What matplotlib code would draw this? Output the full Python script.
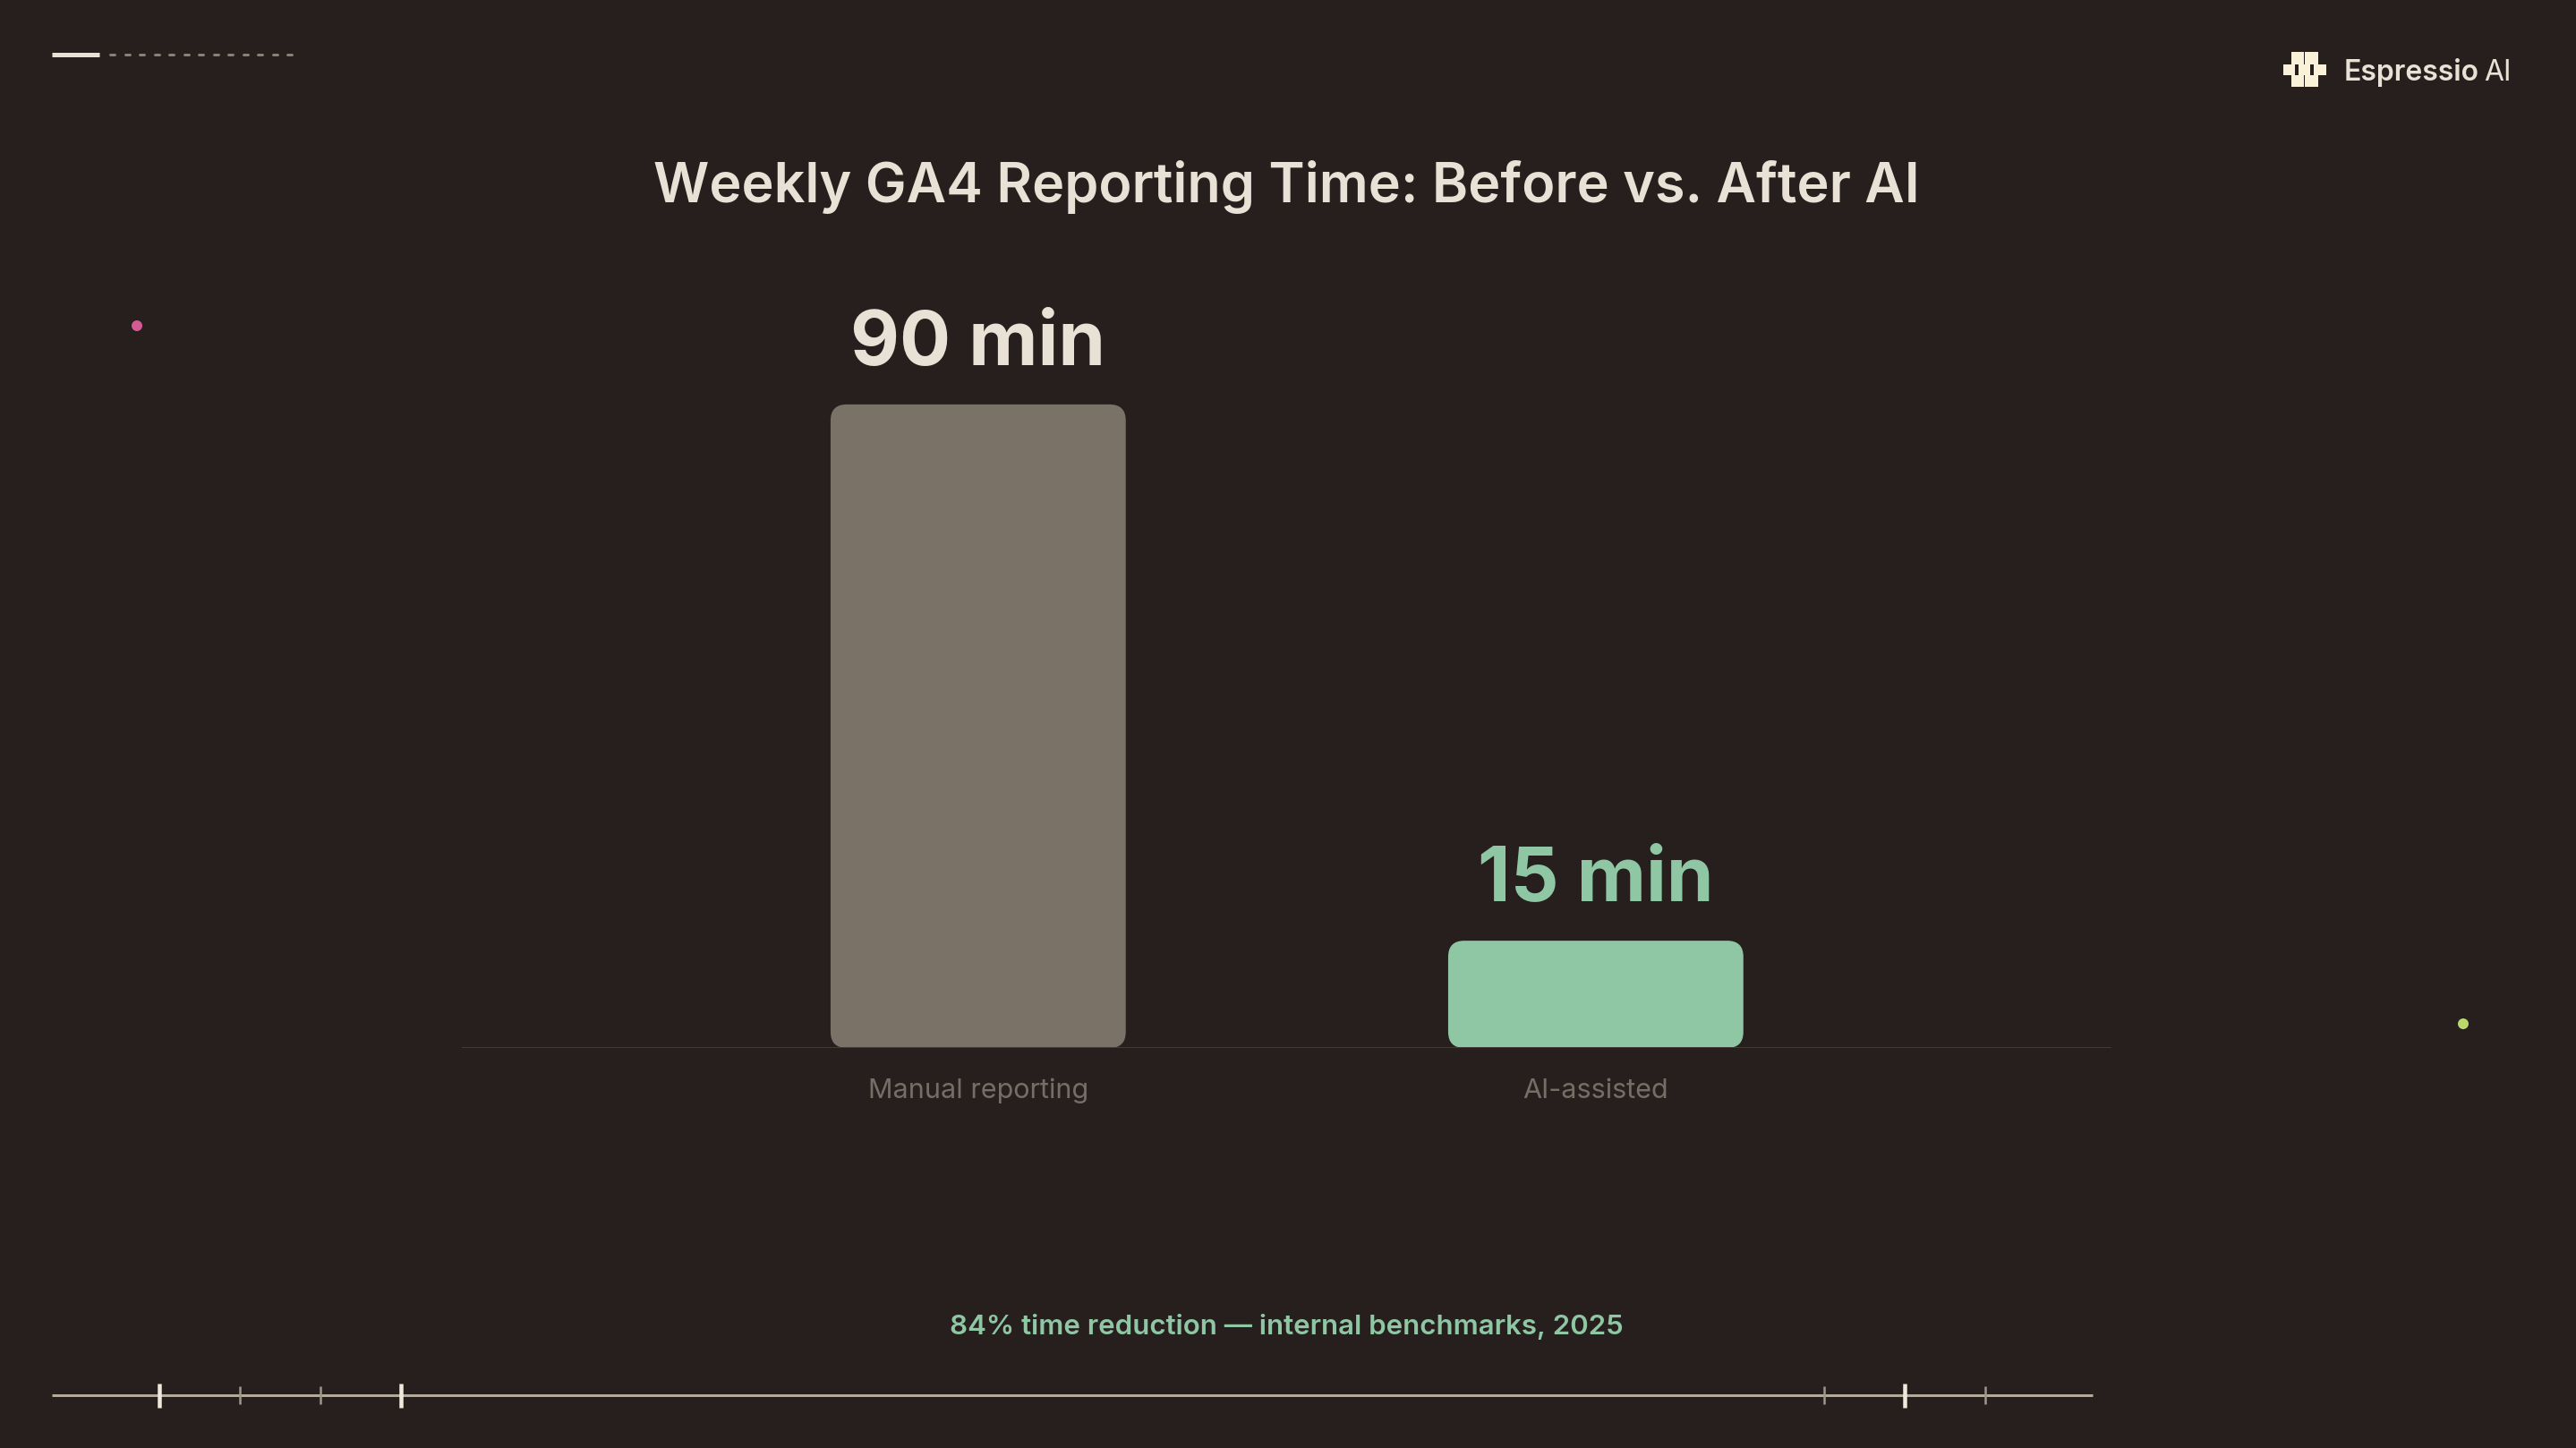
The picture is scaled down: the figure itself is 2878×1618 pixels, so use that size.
import matplotlib
matplotlib.use("Agg")
import matplotlib.pyplot as plt
from matplotlib.patches import FancyBboxPatch, Rectangle, Circle

# data
categories = ["Manual reporting", "AI-assisted"]
minutes = [90, 15]
value_labels = ["90 min", "15 min"]
bar_colors = ["#7A7167", "#8FC6A4"]
label_colors = ["#E9E1D6", "#8FC6A4"]

title = "Weekly GA4 Reporting Time: Before vs. After AI"
footer = "84% time reduction \u2014 internal benchmarks, 2025"

BG = "#271F1D"
CREAM = "#E9E1D6"
GREEN = "#8FC6A4"

W, H = 2878, 1618
DPI = 100
plt.rcParams["font.family"] = ["Inter", "DejaVu Sans"]

fig = plt.figure(figsize=(W / DPI, H / DPI), dpi=DPI, facecolor=BG)

# overlay in pixel coords for the decorations
deco = fig.add_axes([0, 0, 1, 1])
deco.set_xlim(0, W)
deco.set_ylim(H, 0)
deco.axis("off")
deco.set_facecolor("none")

# main chart area (pixels): x 516..2359, baseline y=1171, top 372
left, right, base, top = 516, 2359, 1171, 372
ax = fig.add_axes([left / W, (H - base) / H, (right - left) / W, (base - top) / H])
ax.set_facecolor("none")
xmin, xmax = -0.836, 1.835
ymax = 100
ax.set_xlim(xmin, xmax)
ax.set_ylim(0, ymax)
ax.axis("off")

bar_w = 0.478
px_x = (xmax - xmin) / (right - left)
px_y = ymax / (base - top)
r = 18 * px_x
for i, (v, c) in enumerate(zip(minutes, bar_colors)):
    p = FancyBboxPatch((i - bar_w / 2, 0), bar_w, v,
                       boxstyle=f"round,pad=0,rounding_size={r}",
                       mutation_aspect=px_y / px_x,
                       facecolor=c, edgecolor="none", zorder=2)
    ax.add_patch(p)
    ax.annotate(value_labels[i], (i, v), xytext=(0, 44 * 72 / DPI),
                textcoords="offset points", ha="center", va="baseline",
                fontsize=61, fontweight="bold", color=label_colors[i])
    ax.annotate(categories[i], (i, 0), xytext=(0, -56 * 72 / DPI),
                textcoords="offset points", ha="center", va="baseline",
                fontsize=22, color="#766D66")

ax.axhline(0, color="#433A37", linewidth=2 * 72 / DPI, zorder=3)

# title / footer
deco.text(1437, 226, title, ha="center", va="baseline", fontsize=44,
          fontweight="semibold", color=CREAM)
deco.text(1437, 1491, footer, ha="center", va="baseline", fontsize=22.5,
          fontweight="semibold", color=GREEN)

# top-left progress marks
deco.plot([58, 111], [61, 61], color=CREAM, linewidth=5 * 72 / DPI,
          solid_capstyle="butt")
for k in range(13):
    x0 = 123 + k * 16.5
    deco.plot([x0, x0 + 5], [61, 61], color="#8A807A", linewidth=3 * 72 / DPI,
              solid_capstyle="round")

# logo
icon = [(2560, 58, 14, 14), (2575, 58, 15, 14),
        (2551, 72, 48, 12),
        (2560, 84, 14, 13), (2575, 84, 15, 13)]
for (x, y, w, h) in icon:
    deco.add_patch(Rectangle((x, y), w, h, facecolor="#FBF1D9", edgecolor="none"))
for x in (2564, 2581):
    deco.add_patch(Rectangle((x, 72), 3.5, 12, facecolor=BG, edgecolor="none"))
deco.text(2619, 90, "Espressio", ha="left", va="baseline", fontsize=23,
          fontweight="semibold", color=CREAM)
deco.text(2775, 90, "AI", ha="left", va="baseline", fontsize=23, color=CREAM)

# accent dots
deco.add_patch(Circle((153, 364), 6, facecolor="#D45A93", edgecolor="none"))
deco.add_patch(Circle((2752, 1144), 6, facecolor="#B8D86A", edgecolor="none"))

# bottom ruler
deco.plot([58, 2338], [1559, 1559], color="#B3AA9C", linewidth=3 * 72 / DPI,
          solid_capstyle="butt")
for x in (178, 448, 2128):
    deco.plot([x, x], [1546, 1573], color="#EFE8DC", linewidth=4.5 * 72 / DPI,
              solid_capstyle="butt")
for x in (268, 358, 2038, 2218):
    deco.plot([x, x], [1549, 1569], color="#A0978A", linewidth=2.5 * 72 / DPI,
              solid_capstyle="butt")

fig.savefig("out.png", dpi=DPI, facecolor=BG)
